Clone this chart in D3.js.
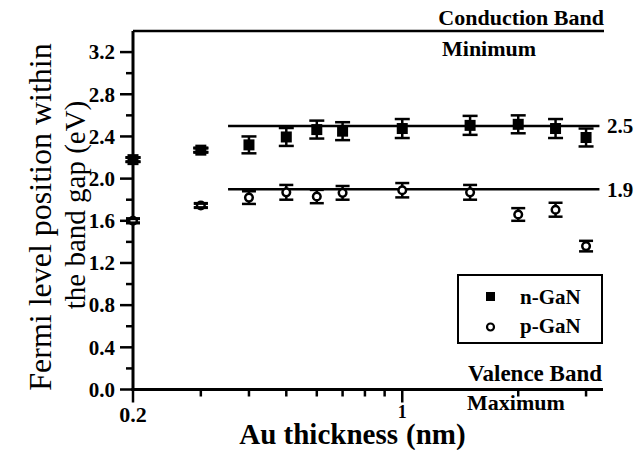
<!DOCTYPE html>
<html>
<head>
<meta charset="utf-8">
<script src="https://cdn.jsdelivr.net/npm/d3@7"></script>
<style>
  html, body { margin: 0; padding: 0; background: #fff; }
  svg { display: block; }
  text { font-family: "Liberation Serif", "Times New Roman", serif; fill: #000; }
</style>
</head>
<body>
<script>
// Au thickness (nm) at each measurement
const thickness = [0.2, 0.3, 0.4, 0.5, 0.6, 0.7, 1.0, 1.5, 2.0, 2.5, 3.0];
// Fermi level position (eV) and error bar half-widths
const nGaN = [2.18, 2.27, 2.32, 2.395, 2.465, 2.45, 2.475, 2.505, 2.515, 2.475, 2.39];
const nErr = [0.02, 0.02, 0.08, 0.085, 0.085, 0.085, 0.09, 0.09, 0.085, 0.09, 0.085];
const pGaN = [1.60, 1.745, 1.82, 1.87, 1.83, 1.865, 1.89, 1.87, 1.66, 1.705, 1.36];
const pErr = [0.02, 0.02, 0.06, 0.07, 0.063, 0.065, 0.068, 0.07, 0.06, 0.066, 0.05];
// Pinning levels and the thickness range they span
const pinLevels = [2.5, 1.9];
const pinRange = [0.353, 3.25];
// Band edges
const bandGap = 3.4;
// Axis ticks
const yMajor = [0, 0.4, 0.8, 1.2, 1.6, 2.0, 2.4, 2.8, 3.2];
const yMinor = [0.2, 0.6, 1.0, 1.4, 1.8, 2.2, 2.6, 3.0];
const xMajor = [0.2, 1];
const xMinor = [0.3, 0.4, 0.5, 0.6, 0.7, 0.8, 0.9, 2, 3];
const xDomain = [0.2, 3.3];

const W = 644, H = 450;
const svg = d3.select("body").append("svg").attr("width", W).attr("height", H);

const x = d3.scaleLog().domain(xDomain).range([133, 602]);
const y = d3.scaleLinear().domain([0, bandGap]).range([389.5, 31]);

// Left axis
const yAxis = svg.append("g").attr("transform", `translate(${x(xDomain[0])},0)`);
yAxis.append("line").attr("y1", y(bandGap)).attr("y2", y(0) + 1.5)
  .attr("stroke", "#000").attr("stroke-width", 3);
yAxis.selectAll(".ymaj").data(yMajor).join("line")
  .attr("x1", -13).attr("x2", 0).attr("y1", d => y(d)).attr("y2", d => y(d))
  .attr("stroke", "#000").attr("stroke-width", 2.5);
yAxis.selectAll(".ymin").data(yMinor).join("line")
  .attr("x1", -7).attr("x2", 0).attr("y1", d => y(d)).attr("y2", d => y(d))
  .attr("stroke", "#000").attr("stroke-width", 2.5);
yAxis.selectAll(".ylab").data(yMajor).join("text")
  .attr("x", -18).attr("y", d => y(d)).attr("dy", "0.35em")
  .attr("text-anchor", "end").attr("font-weight", "bold").attr("font-size", 21)
  .text(d3.format(".1f"));

// Bottom axis (valence band maximum)
const xAxis = svg.append("g").attr("transform", `translate(0,${y(0)})`);
xAxis.append("line").attr("x1", x(xDomain[0]) - 1.5).attr("x2", 603)
  .attr("stroke", "#000").attr("stroke-width", 3);
xAxis.selectAll(".xmaj").data(xMajor).join("line")
  .attr("x1", d => x(d)).attr("x2", d => x(d)).attr("y1", 0).attr("y2", 13)
  .attr("stroke", "#000").attr("stroke-width", 2.5);
xAxis.selectAll(".xmin").data(xMinor).join("line")
  .attr("x1", d => x(d)).attr("x2", d => x(d)).attr("y1", 0).attr("y2", 7)
  .attr("stroke", "#000").attr("stroke-width", 2.5);
xAxis.selectAll(".xlab").data(xMajor).join("text")
  .attr("x", d => x(d)).attr("y", d => d === 1 ? 28 : 32)
  .attr("text-anchor", "middle").attr("font-weight", "bold")
  .attr("font-size", d => d === 1 ? 18 : 22)
  .text(d => d === 1 ? "1" : "0.2");

// Conduction band minimum line
svg.append("line").attr("x1", x(xDomain[0])).attr("x2", 604)
  .attr("y1", y(bandGap)).attr("y2", y(bandGap))
  .attr("stroke", "#000").attr("stroke-width", 2.5);

// Pinning level lines and labels
svg.selectAll(".pin").data(pinLevels).join("line")
  .attr("x1", x(pinRange[0])).attr("x2", x(pinRange[1]))
  .attr("y1", d => y(d)).attr("y2", d => y(d))
  .attr("stroke", "#000").attr("stroke-width", 2.5);
svg.selectAll(".pinlab").data(pinLevels).join("text")
  .attr("x", 607).attr("y", d => y(d)).attr("dy", "0.35em")
  .attr("font-weight", "bold").attr("font-size", 21)
  .text(d => d3.format(".1f")(d));

// Error bars
function errorBars(vals, errs, cap) {
  const g = svg.append("g").attr("stroke", "#000").attr("stroke-width", 2.5);
  thickness.forEach((t, i) => {
    const cx = x(t), lo = y(vals[i] - errs[i]), hi = y(vals[i] + errs[i]);
    g.append("line").attr("x1", cx).attr("x2", cx).attr("y1", lo).attr("y2", hi);
    g.append("line").attr("x1", cx - cap / 2).attr("x2", cx + cap / 2).attr("y1", lo).attr("y2", lo);
    g.append("line").attr("x1", cx - cap / 2).attr("x2", cx + cap / 2).attr("y1", hi).attr("y2", hi);
  });
}
errorBars(nGaN, nErr, 15);
errorBars(pGaN, pErr, 14);

// n-GaN: filled squares
svg.selectAll(".nsq").data(thickness).join("rect")
  .attr("x", d => x(d) - 5.5).attr("y", (d, i) => y(nGaN[i]) - 5.5)
  .attr("width", 11).attr("height", 11).attr("fill", "#000");

// p-GaN: open circles
svg.selectAll(".pc").data(thickness).join("circle")
  .attr("cx", d => x(d)).attr("cy", (d, i) => y(pGaN[i])).attr("r", 3.8)
  .attr("fill", "#fff").attr("stroke", "#000").attr("stroke-width", 2.5);

// Redraw caps of the two thinnest layers over the markers
[0, 1].forEach(i => {
  [[nGaN, nErr, 15], [pGaN, pErr, 14]].forEach(([v, e, c]) => {
    const cx = x(thickness[i]);
    [v[i] - e[i], v[i] + e[i]].forEach(val => {
      svg.append("line").attr("x1", cx - c / 2).attr("x2", cx + c / 2)
        .attr("y1", y(val)).attr("y2", y(val)).attr("stroke", "#000").attr("stroke-width", 3);
    });
  });
});

// Band edge annotations
const ann = svg.append("g").attr("font-weight", "bold").attr("font-size", 22);
ann.append("text").attr("x", 604).attr("y", 25).attr("text-anchor", "end").text("Conduction Band");
ann.append("text").attr("x", 442).attr("y", 56).text("Minimum");
ann.append("text").attr("x", 602).attr("y", 381).attr("text-anchor", "end")
  .attr("font-size", 23).text("Valence Band");
ann.append("text").attr("x", 467).attr("y", 410).text("Maximum");

// Legend
const lg = svg.append("g").attr("transform", "translate(458,275)");
lg.append("rect").attr("width", 144).attr("height", 68)
  .attr("fill", "#fff").attr("stroke", "#000").attr("stroke-width", 2);
lg.append("rect").attr("x", 28).attr("y", 17).attr("width", 9).attr("height", 9).attr("fill", "#000");
lg.append("circle").attr("cx", 32.5).attr("cy", 52).attr("r", 3.5)
  .attr("fill", "#fff").attr("stroke", "#000").attr("stroke-width", 2.2);
lg.append("text").attr("x", 62).attr("y", 29).attr("font-weight", "bold").attr("font-size", 21).text("n-GaN");
lg.append("text").attr("x", 62).attr("y", 58).attr("font-weight", "bold").attr("font-size", 21).text("p-GaN");

// Axis titles
const xt = svg.append("g").attr("font-weight", "bold").attr("font-size", 29);
xt.append("text").attr("x", 398).attr("y", 444).attr("text-anchor", "end").text("Au thickness");
xt.append("text").attr("x", 406).attr("y", 444).text("(nm)");

const yt = svg.append("g");
yt.append("text").attr("transform", "translate(51,217) rotate(-90)")
  .attr("text-anchor", "middle").attr("font-size", 32).text("Fermi level position within");
yt.append("text").attr("transform", "translate(85,205) rotate(-90)")
  .attr("text-anchor", "middle").attr("font-size", 29).text("the band gap (eV)");
</script>
</body>
</html>
